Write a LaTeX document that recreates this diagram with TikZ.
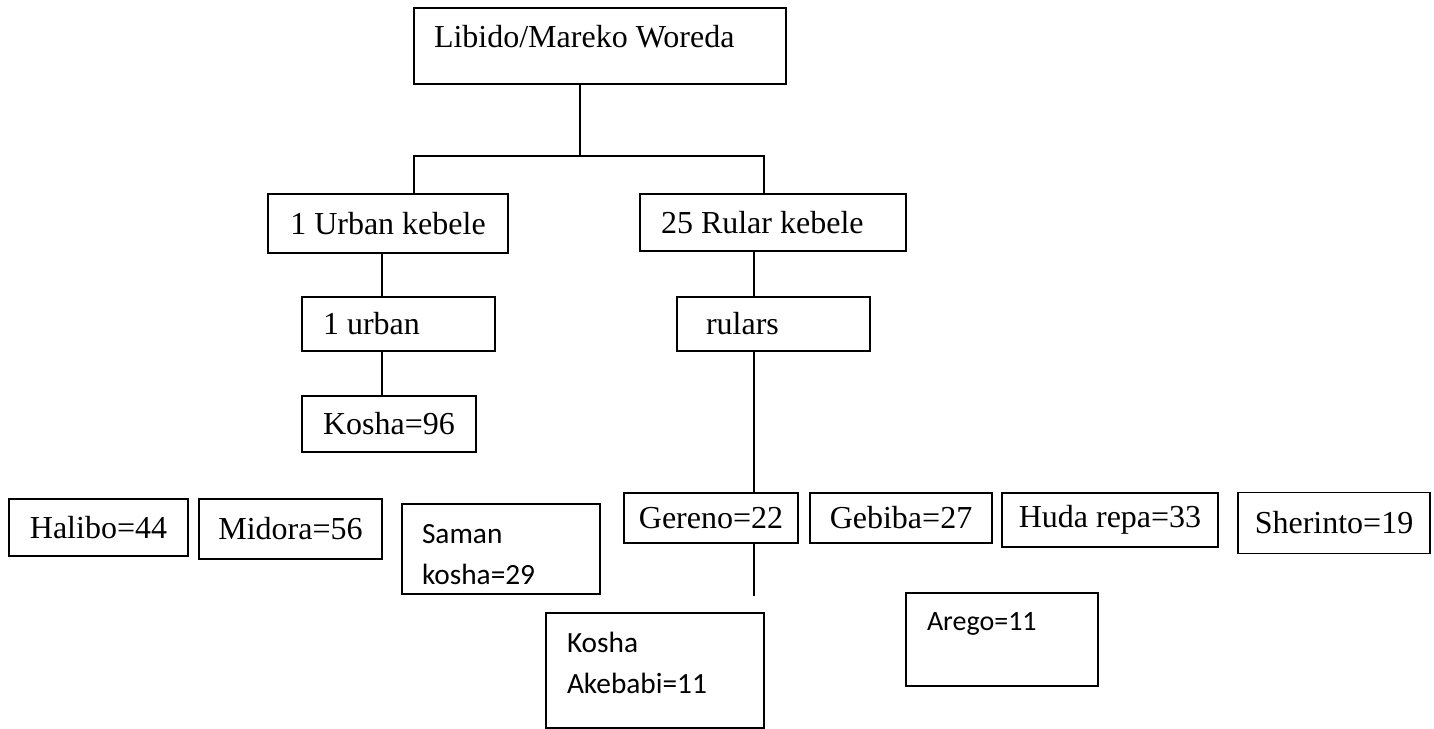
\documentclass[tikz,border=0pt]{standalone}
\usepackage{fontspec}
\setmainfont{Liberation Serif}
\newfontfamily\calibriFont{Carlito}
\usepackage{tikz}
\usetikzlibrary{positioning,calc}
\newcommand{\px}{0.375pt} % one pixel of the reference
\tikzset{
    cellBox/.style 2 args={ % width, height in pixels
    ,   draw
    ,   rectangle
    ,   line width = 0.6pt
    ,   inner sep = 0pt
    ,   minimum width = #1*\px
    ,   minimum height = #2*\px
    ,   font = \fontsize{12pt}{14pt}\selectfont
    },
    padBox/.style 2 args={ % left padding, text width
    ,   align = flush left
    ,   inner xsep = #1
    ,   text width = #2
    },
    calibriText/.style={
    ,   font = \calibriFont\fontsize{11pt}{15.5pt}\selectfont
    },
    wire/.style={
    ,   line width = 0.45pt
    },
}

\begin{document}
\begin{tikzpicture}[x=\px, y=-\px]
	\useasboundingbox (0,0) rectangle (1434,729);

	% top levels
	\node[cellBox={372}{76}, padBox={7.5pt}{124.5pt}, text height=15pt, text depth=13.5pt] (woreda) at (600,46) {Libido/Mareko Woreda};
	\node[cellBox={240}{59}] (urbKeb) at (388,223.5) {1 Urban kebele};
	\node[cellBox={266}{57}, padBox={7.875pt}{84pt}] (rurKeb) at (773,222.5) {25 Rular kebele};
	\node[cellBox={193}{54}, padBox={7.875pt}{56.625pt}] (urban) at (398.5,324) {1 urban};
	\node[cellBox={193}{54}, padBox={10.875pt}{50.625pt}] (rulars) at (773.5,324) {rulars};
	\node[cellBox={174}{56}, padBox={7.875pt}{49.5pt}] (kosha96) at (389,424) {Kosha=96};

	% kebeles
	\node[cellBox={179}{57}] (halibo) at (98.5,527.5) {Halibo=44};
	\node[cellBox={183}{60}] (midora) at (290.5,529) {Midora=56};
	\node[cellBox={198}{90}, padBox={7.5pt}{59.25pt}, calibriText, text depth=11.5pt] (saman) at (501,549) {Saman\\kosha=29};
	\node[cellBox={174}{50}] (gereno) at (711,518) {Gereno=22};
	\node[cellBox={182}{50}] (gebiba) at (901,518) {Gebiba=27};
	\node[cellBox={216}{54}] (huda) at (1110,520) {Huda repa=33};
	\node[cellBox={192}{61}] (sherinto) at (1334,523) {Sherinto=19};
	\node[cellBox={218}{115}, padBox={7.875pt}{66pt}, calibriText, text depth=21.5pt] (akebabi) at (655,670.5) {Kosha\\Akebabi=11};
	\node[cellBox={192}{93}, padBox={7.875pt}{56.25pt}, text height=14.25pt, text depth=20.625pt,
		font=\calibriFont\fontsize{10.5pt}{12pt}\selectfont] (arego) at (1002,639.5) {Arego=11};

	% connectors
	\coordinate (split) at (580,156);
	\coordinate (busL) at (414,156);
	\coordinate (busR) at (764,156);
	\coordinate (uAxis) at (382,0);
	\coordinate (rAxis) at (754,0);
	\coordinate (gerEnd) at (754,596);
	\draw[wire] (woreda.south -| split) -- (split);
	\draw[wire] (busL |- urbKeb.north) -- (busL) -- (busR) -- (busR |- rurKeb.north);
	\draw[wire] (urbKeb.south -| uAxis) -- (urban.north -| uAxis);
	\draw[wire] (urban.south -| uAxis) -- (kosha96.north -| uAxis);
	\draw[wire] (rurKeb.south -| rAxis) -- (rulars.north -| rAxis);
	\draw[wire] (rulars.south -| rAxis) -- (gereno.north -| rAxis);
	\draw[wire] (gereno.south -| rAxis) -- (gerEnd);
\end{tikzpicture}
\end{document}
